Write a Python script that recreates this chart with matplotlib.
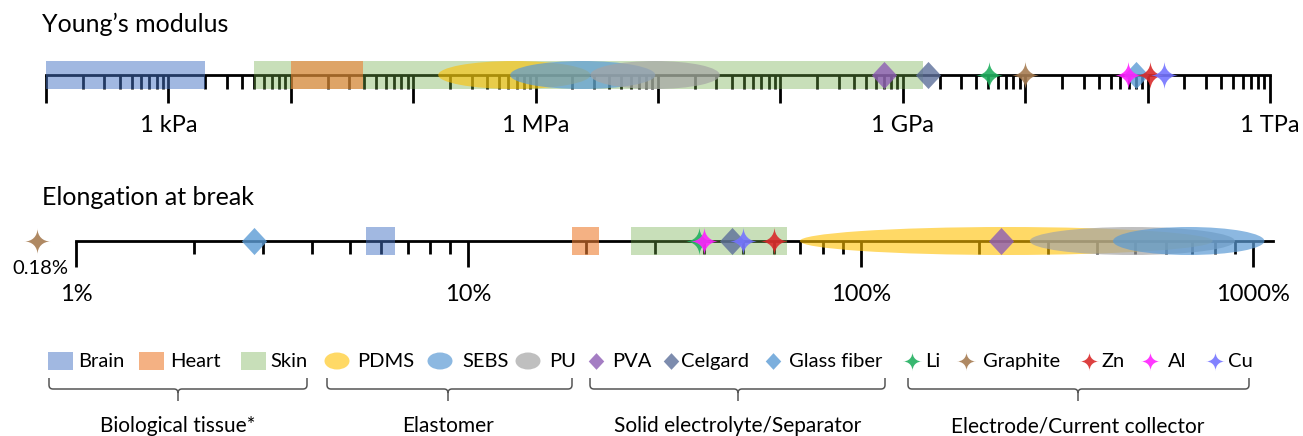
import numpy as np
import matplotlib.pyplot as plt
from matplotlib.patches import Rectangle, Ellipse, PathPatch
from matplotlib.path import Path

plt.rcParams['font.family'] = ['Lato', 'DejaVu Sans']

# Young's modulus (Pa): ranges for tissues / elastomers, points for the rest
brain_E = [1e2, 2e3]
heart_E = [1e4, 3.9e4]
skin_E = [5e3, 1.45e9]
pdms_E = [1.6e5, 2.8e6]
sebs_E = [6.2e5, 9.5e6]
pu_E = [2.8e6, 3.2e7]
pva_E = 7e8
celgard_E = 1.6e9
glass_E = 8.1e10
li_E = 5.1e9
graphite_E = 1.0e10
al_E = 6.9e10
zn_E = 1.05e11
cu_E = 1.35e11

# Elongation at break (%)
brain_el = [5.5, 6.5]
heart_el = [18.4, 21.5]
skin_el = [26, 65]
pdms_el = [70, 790]
pu_el = [270, 900]
sebs_el = [440, 1070]
pva_el = 228
celgard_el = 47
glass_el = 2.85
li_el = 38.7
al_el = 40
cu_el = 50
zn_el = 60
graphite_el = 0.18   # off the scale, drawn left of the axis

E_ticks = [1e3, 1e6, 1e9, 1e12]
E_labels = ['1 kPa', '1 MPa', '1 GPa', '1 TPa']
el_ticks = [1, 10, 100, 1000]
el_labels = ['1%', '10%', '100%', '1000%']

legend_names = ['Brain', 'Heart', 'Skin', 'PDMS', 'SEBS', 'PU', 'PVA', 'Celgard',
                'Glass fiber', 'Li', 'Graphite', 'Zn', 'Al', 'Cu']
group_names = ['Biological tissue*', 'Elastomer', 'Solid electrolyte/Separator',
               'Electrode/Current collector']

col = {'Brain': ('#4472C4', 0.5), 'Heart': ('#ED7D31', 0.6), 'Skin': ('#70AD47', 0.38),
       'PDMS': ('#FFC000', 0.6), 'SEBS': ('#5B9BD5', 0.7), 'PU': ('#A5A5A5', 0.7),
       'PVA': ('#8E5DB5', 0.8), 'Celgard': ('#5D6F9A', 0.8), 'Glass fiber': ('#5B9BD5', 0.8),
       'Li': ('#22B060', 0.9), 'Graphite': ('#A67C52', 0.9), 'Zn': ('#D92B2B', 0.9),
       'Al': ('#FF22FF', 0.9), 'Cu': ('#7575FF', 0.9)}

# 4-point star and diamond marker shapes
c = 0.4
star = Path([(0, 1), (0, c), (c, 0), (1, 0), (c, 0), (0, -c), (0, -1), (0, -c), (-c, 0),
             (-1, 0), (-c, 0), (0, c), (0, 1), (0, 1)],
            [Path.MOVETO] + [Path.CURVE4] * 12 + [Path.CLOSEPOLY])
diamond = Path([(0, 1), (0.93, 0), (0, -1), (-0.93, 0), (0, 1)], closed=True)

W, H = 1303, 436
fig = plt.figure(figsize=(W / 100, H / 100), dpi=100)

lax = fig.add_axes([0, 0, 1, 1], zorder=-1)
lax.set_xlim(0, W)
lax.set_ylim(H, 0)
lax.axis('off')


def make_axis(ybot, lo_px, dec_px, lo, hi_bound):
    ax = fig.add_axes([0, (H - ybot) / H, 1, 70 / H])
    ax.set_xlim(lo - lo_px / dec_px, lo + (W - lo_px) / dec_px)
    ax.set_ylim(-35, 35)
    ax.patch.set_visible(False)
    for s in ['top', 'left', 'right']:
        ax.spines[s].set_visible(False)
    ax.spines['bottom'].set_position(('data', 0))
    ax.spines['bottom'].set_bounds(lo, hi_bound)
    ax.spines['bottom'].set_linewidth(2)
    ax.set_yticks([])
    return ax


def minor_ticks(lo, hi):
    return [np.log10(k) + d for d in range(lo, hi) for k in range(2, 10)]


def rng(ax, name, v, shape='rect'):
    a, b = np.log10(v)
    cc, al = col[name]
    if shape == 'rect':
        p = Rectangle((a, -14), b - a, 28, color=cc, alpha=al, lw=0, zorder=3)
    else:
        p = Ellipse(((a + b) / 2, 0), b - a, 28, color=cc, alpha=al, lw=0, zorder=3)
    ax.add_patch(p)


def pt(ax, name, v, m, ms):
    cc, al = col[name]
    ax.plot(np.log10(v), 0, ls='none', marker=m, ms=ms, color=cc, alpha=al,
            mec='none', zorder=4)


# ---------------- Young's modulus ----------------
ax1 = make_axis(110, 46, 122.4, 2, 12)
ax1.set_xticks(range(2, 13))
ax1.set_xticklabels(['' if 10.0 ** k not in E_ticks else E_labels[E_ticks.index(10.0 ** k)]
                     for k in range(2, 13)])
ax1.set_xticks(minor_ticks(2, 12), minor=True)
ax1.tick_params(axis='x', which='major', length=20, width=2, pad=9, labelsize=17)
ax1.tick_params(axis='x', which='minor', length=10, width=2)

rng(ax1, 'Skin', skin_E)
rng(ax1, 'Brain', brain_E)
rng(ax1, 'Heart', heart_E)
rng(ax1, 'PDMS', pdms_E, 'ell')
rng(ax1, 'SEBS', sebs_E, 'ell')
rng(ax1, 'PU', pu_E, 'ell')
pt(ax1, 'PVA', pva_E, diamond, 19.5)
pt(ax1, 'Celgard', celgard_E, diamond, 19.5)
pt(ax1, 'Glass fiber', glass_E, diamond, 19.5)
for n, v in [('Li', li_E), ('Graphite', graphite_E), ('Al', al_E), ('Zn', zn_E), ('Cu', cu_E)]:
    pt(ax1, n, v, star, 21)

# ---------------- Elongation at break ----------------
ax2 = make_axis(276, 76, 392.3, 0, 3.05)
ax2.set_xticks(np.log10(el_ticks))
ax2.set_xticklabels(el_labels)
ax2.set_xticks(minor_ticks(0, 3), minor=True)
ax2.tick_params(axis='x', which='major', length=19, width=2, pad=12, labelsize=17)
ax2.tick_params(axis='x', which='minor', length=9, width=2)

rng(ax2, 'Skin', skin_el)
rng(ax2, 'Brain', brain_el)
rng(ax2, 'Heart', heart_el)
rng(ax2, 'PDMS', pdms_el, 'ell')
rng(ax2, 'PU', pu_el, 'ell')
rng(ax2, 'SEBS', sebs_el, 'ell')
pt(ax2, 'PVA', pva_el, diamond, 19.5)
pt(ax2, 'Celgard', celgard_el, diamond, 19.5)
pt(ax2, 'Glass fiber', glass_el, diamond, 19.5)
for n, v in [('Li', li_el), ('Al', al_el), ('Cu', cu_el), ('Zn', zn_el)]:
    pt(ax2, n, v, star, 21)
# graphite sits below 1 %, shown just left of the axis start
brk = -0.1
ax2.plot(brk, 0, ls='none', marker=star, ms=19, color=col['Graphite'][0],
         alpha=0.9, mec='none', clip_on=False)
ax2.text(brk + 0.01, -27, f'{graphite_el}%', ha='center', va='center', fontsize=14.5)

# ---------------- titles ----------------
lax.text(42, 32, 'Young’s modulus', fontsize=18, va='baseline')
lax.text(42, 205, 'Elongation at break', fontsize=18, va='baseline')

# ---------------- legend ----------------
ly = 361
handle_x = [60, 151, 253, 337, 440, 528, 596, 671, 773, 912, 966, 1089, 1150, 1215]
text_x = [78, 170, 270, 357, 462, 549, 612, 681, 789, 925, 983, 1101, 1168, 1228]
for i, n in enumerate(legend_names):
    cc, al = col[n]
    hx = handle_x[i]
    if i < 3:
        lax.add_patch(Rectangle((hx - 12.5, ly - 9), 25, 18, color=cc, alpha=al, lw=0))
    elif i < 6:
        lax.add_patch(Ellipse((hx, ly), 25, 17, color=cc, alpha=al, lw=0))
    elif i < 9:
        lax.plot(hx, ly, ls='none', marker=diamond, ms=12, color=cc, alpha=al, mec='none')
    else:
        lax.plot(hx, ly, ls='none', marker=star, ms=14, color=cc, alpha=al, mec='none')
    lax.text(text_x[i], ly, n, fontsize=14.5, va='center', ha='left')

brace_x = [(49, 307, 178), (327, 572, 448), (590, 885, 738), (908, 1249, 1078)]
for (x0, x1, xc), g in zip(brace_x, group_names):
    y0, ym, yt = 378, 389, 401
    verts = [(x0, y0), (x0, ym - 4), (x0, ym), (x0 + 4, ym), (xc - 4, ym), (xc, ym), (xc, ym + 4),
             (xc, yt), (xc, ym + 4), (xc, ym), (xc + 4, ym), (x1 - 4, ym), (x1, ym), (x1, ym - 4),
             (x1, y0)]
    codes = [Path.MOVETO, Path.LINETO, Path.CURVE3, Path.CURVE3, Path.LINETO, Path.CURVE3,
             Path.CURVE3, Path.LINETO, Path.MOVETO, Path.CURVE3, Path.CURVE3, Path.LINETO,
             Path.CURVE3, Path.CURVE3, Path.LINETO]
    lax.add_patch(PathPatch(Path(verts, codes), fill=False, ec='#555555', lw=1.1))
    lax.text(xc, 426, g, fontsize=15, ha='center', va='center')

fig.savefig('out.png', dpi=100)
